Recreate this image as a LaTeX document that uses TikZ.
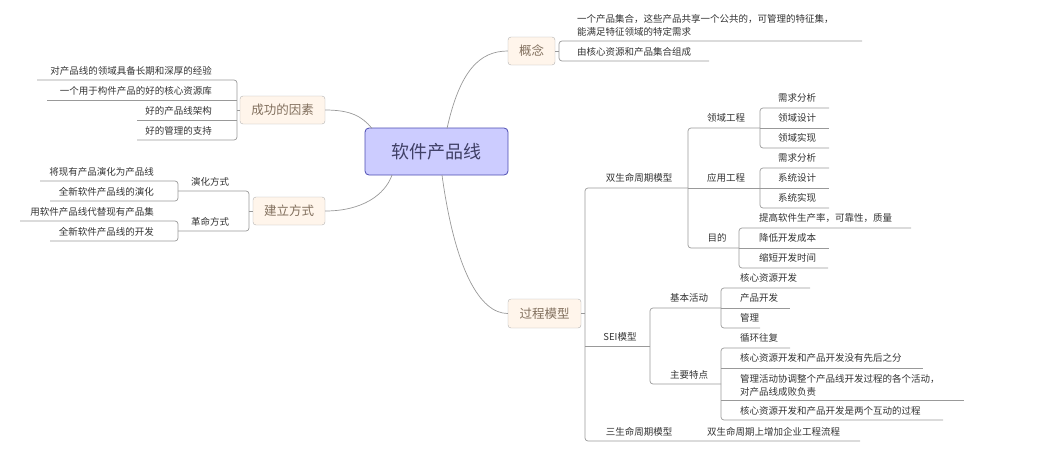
\documentclass[tikz,border=0pt]{standalone}
\usepackage{fontspec}
\setmainfont{Noto Sans CJK SC}
\begin{document}
\begin{tikzpicture}[x=1pt,y=-1pt,
  ln/.style={draw=black!40,line width=0.7pt},
  br/.style={ln,rounded corners=3pt},
  leaf/.style={font=\fontsize{9.5}{11}\selectfont,text=black!80,inner sep=0pt},
  mainbox/.style={draw=black!30,fill=orange!8,rounded corners=3pt,text=brown!40!black!70,font=\fontsize{12.5}{14}\selectfont,inner sep=0pt},
  rootbox/.style={draw=blue!40!gray,line width=0.8pt,fill=blue!20!white,rounded corners=4pt,text=blue!20!black!75,font=\fontsize{18}{20}\selectfont,inner sep=0pt}]
\useasboundingbox (0,0) rectangle (1051,461);
% main nodes
\node[rootbox,minimum width=143pt,minimum height=47pt] (root) at (436.5,151.5) {软件产品线};
\node[mainbox,minimum width=85pt,minimum height=28pt] (gs) at (282.5,110) {成功的因素};
\node[mainbox,minimum width=72pt,minimum height=28pt] (gj) at (289,211) {建立方式};
\node[mainbox,minimum width=47pt,minimum height=28pt] (gn) at (531.5,51) {概念};
\node[mainbox,minimum width=73pt,minimum height=29pt] (gc) at (544.5,313.5) {过程模型};
\coordinate (r1) at (447,128.5);
\coordinate (r2) at (442,175);
\coordinate (r3) at (372,128.5);
\coordinate (r4) at (392,175);
\draw[ln] (r1) .. controls (460,70) and (480,51) .. (gn.west);
\draw[ln] (r2) .. controls (455,270) and (480,313.5) .. (gc.west);
\draw[ln] (gs.east) .. controls (350,110) and (362,116) .. (r3);
\draw[ln] (gj.east) .. controls (362,211) and (385,195) .. (r4);
% 成功的因素
\draw[br] (37,80) -- (237,80) -- (237,140) -- (137,140);
\draw[ln] (47,100) -- (237,100); \draw[ln] (137,120) -- (237,120);
\draw[ln] (237,110) -- (gs.west);
\node[leaf,anchor=east] (s1) at (212,71) {对产品线的领域具备长期和深厚的经验};
\node[leaf,anchor=east] (s2) at (212,91) {一个用于构件产品的好的核心资源库};
\node[leaf,anchor=east] (s3) at (212,111) {好的产品线架构};
\node[leaf,anchor=east] (s4) at (212,131) {好的管理的支持};
% 建立方式
\draw[br] (178,191) -- (249,191) -- (249,231) -- (178,231);
\draw[ln] (249,211) -- (gj.west);
\node[leaf] (j1) at (210,182) {演化方式};
\node[leaf] (j2) at (210,222) {革命方式};
\draw[br] (40,181) -- (178,181) -- (178,201) -- (50,201);
\draw[br] (20,221) -- (178,221) -- (178,241) -- (50,241);
\node[leaf,anchor=east] (j11) at (154,172) {将现有产品演化为产品线};
\node[leaf,anchor=east] (j12) at (154,192) {全新软件产品线的演化};
\node[leaf,anchor=east] (j21) at (154,212) {用软件产品线代替现有产品集};
\node[leaf,anchor=east] (j22) at (154,232) {全新软件产品线的开发};
% 概念
\draw[br] (862,41) -- (559,41) -- (559,61) -- (709,61);
\draw[ln] (gn.east) -- (559,51);
\node[leaf,anchor=west,align=left,font=\fontsize{9.5}{13}\selectfont] (n1) at (577,25) {一个产品集合，这些产品共享一个公共的，可管理的特征集，\\能满足特征领域的特定需求};
\node[leaf,anchor=west] (n2) at (577,52) {由核心资源和产品集合组成};
% 过程模型
\draw[br] (688,188) -- (585,188) -- (585,441) -- (860,441);
\draw[ln] (585,346) -- (650,346);
\draw[ln] (gc.east) -- (585,313.5);
\node[leaf] (c1) at (639,178) {双生命周期模型};
\node[leaf] (c2) at (620,337) {SEI模型};
\node[leaf] (c3) at (639,432) {三生命周期模型};
\node[leaf,anchor=west] (c31) at (707,432) {双生命周期上增加企业工程流程};
% 双生命周期
\draw[br] (760,128) -- (688,128) -- (688,248) -- (739,248);
\draw[ln] (688,188) -- (760,188);
\node[leaf] (d1) at (726,118) {领域工程};
\node[leaf] (d2) at (726,178) {应用工程};
\node[leaf] (d3) at (717,238) {目的};
\draw[br] (829,108) -- (760,108) -- (760,148) -- (829,148);
\draw[ln] (760,128) -- (829,128);
\node[leaf,anchor=west] at (778,98) {需求分析};
\node[leaf,anchor=west] at (778,118) {领域设计};
\node[leaf,anchor=west] at (778,138) {领域实现};
\draw[br] (829,168) -- (760,168) -- (760,208) -- (829,208);
\draw[ln] (760,188) -- (829,188);
\node[leaf,anchor=west] at (778,158) {需求分析};
\node[leaf,anchor=west] at (778,178) {系统设计};
\node[leaf,anchor=west] at (778,198) {系统实现};
\draw[br] (911,228) -- (739,228) -- (739,268) -- (828,268);
\draw[ln] (739,248) -- (829,248);
\node[leaf,anchor=west] at (759,218) {提高软件生产率，可靠性，质量};
\node[leaf,anchor=west] at (759,238) {降低开发成本};
\node[leaf,anchor=west] at (759,258) {缩短开发时间};
% SEI
\draw[br] (721,308) -- (650,308) -- (650,384) -- (721,384);
\node[leaf] (e1) at (689,298) {基本活动};
\node[leaf] (e2) at (689,375) {主要特点};
\draw[br] (810,288) -- (721,288) -- (721,328) -- (760,328);
\draw[ln] (721,308) -- (790,308);
\node[leaf,anchor=west] at (740,278) {核心资源开发};
\node[leaf,anchor=west] at (740,298) {产品开发};
\node[leaf,anchor=west] at (740,318) {管理};
\draw[br] (790,348) -- (721,348) -- (721,420) -- (943,420);
\draw[ln] (721,368) -- (923,368);
\draw[ln] (721,400) -- (964,400);
\node[leaf,anchor=west] at (740,338) {循环往复};
\node[leaf,anchor=west] at (740,358) {核心资源开发和产品开发没有先后之分};
\node[leaf,anchor=west,align=left,font=\fontsize{9.5}{13}\selectfont] at (740,385) {管理活动协调整个产品线开发过程的各个活动，\\对产品线成败负责};
\node[leaf,anchor=west] at (740,411) {核心资源开发和产品开发是两个互动的过程};
\end{tikzpicture}
\end{document}
